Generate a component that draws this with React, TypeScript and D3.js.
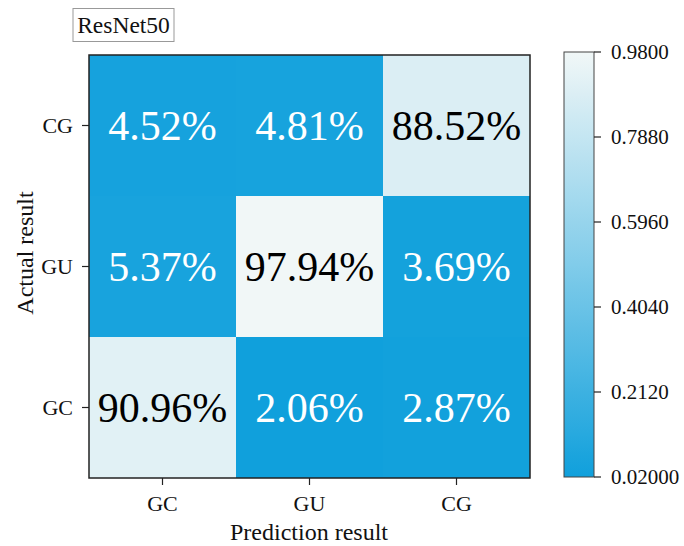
import React from "react";
import * as d3 from "d3";

// Confusion matrix for the ResNet50 classifier
const classes = ["GC", "GU", "CG"];
// rows: actual class (top to bottom), columns: predicted class (left to right)
const actualRows = ["CG", "GU", "GC"];
const matrix: number[][] = [
  [0.0452, 0.0481, 0.8852],
  [0.0537, 0.9794, 0.0369],
  [0.9096, 0.0206, 0.0287],
];
const colorbarTicks = [0.02, 0.212, 0.404, 0.596, 0.788, 0.98];
const colorbarTickLabels = ["0.02000", "0.2120", "0.4040", "0.5960", "0.7880", "0.9800"];
const title = "ResNet50";

const serif: React.CSSProperties = { fontFamily: "'Liberation Serif', 'Times New Roman', Times, serif" };

export default function App() {
  const left = 89, right = 530, top = 55, bottom = 478;
  const x = d3.scaleBand<string>().domain(classes).range([left, right]);
  const y = d3.scaleBand<string>().domain(actualRows).range([top, bottom]);
  const color = d3
    .scaleLinear<string>()
    .domain([0.02, 0.98])
    .range(["#10a0dc", "#f1f7f7"])
    .interpolate(d3.interpolateRgb)
    .clamp(true);

  const cbLeft = 564, cbWidth = 30, cbTop = 52, cbBottom = 477;
  const cbScale = d3.scaleLinear().domain([0.02, 0.98]).range([cbBottom, cbTop]);
  const stops = d3.range(0, 1.0001, 0.05);

  return (
    <svg width={684} height={546} style={{ position: "absolute", left: 0, top: 0, background: "#fff" }}>
      <defs>
        <linearGradient id="cb" x1="0" y1="1" x2="0" y2="0">
          {stops.map((t) => (
            <stop key={t} offset={t} stopColor={color(0.02 + t * 0.96)} />
          ))}
        </linearGradient>
      </defs>

      {/* title box */}
      <rect x={73} y={8.5} width={101} height={33} fill="#fff" stroke="#999" strokeWidth={1} />
      <text x={123.5} y={33} textAnchor="middle" style={serif} fontSize={23.5} fill="#111">
        {title}
      </text>

      {/* cells */}
      {matrix.map((row, i) =>
        row.map((v, j) => {
          const cx = x(classes[j])!;
          const cy = y(actualRows[i])!;
          return (
            <g key={`${i}-${j}`}>
              <rect x={cx} y={cy} width={x.bandwidth()} height={y.bandwidth()} fill={color(v)} />
              <text
                x={cx + x.bandwidth() / 2}
                y={cy + y.bandwidth() / 2 + 14}
                textAnchor="middle"
                style={serif}
                fontSize={42}
                fill={v > 0.5 ? "#000" : "#fff"}
              >
                {(v * 100).toFixed(2)}%
              </text>
            </g>
          );
        })
      )}
      <rect x={left} y={top} width={right - left} height={bottom - top} fill="none" stroke="#222" strokeWidth={1.5} />

      {/* x axis */}
      {classes.map((c) => {
        const cx = x(c)! + x.bandwidth() / 2;
        return (
          <g key={c}>
            <line x1={cx} x2={cx} y1={bottom} y2={bottom + 7} stroke="#222" strokeWidth={1.2} />
            <text x={cx} y={511} textAnchor="middle" style={serif} fontSize={22} fill="#111">
              {c}
            </text>
          </g>
        );
      })}
      <text x={309} y={540} textAnchor="middle" style={serif} fontSize={24} fill="#111">
        Prediction result
      </text>

      {/* y axis */}
      {actualRows.map((c) => {
        const cy = y(c)! + y.bandwidth() / 2;
        return (
          <g key={c}>
            <line x1={left - 7} x2={left} y1={cy} y2={cy} stroke="#222" strokeWidth={1.2} />
            <text x={left - 16} y={cy + 7.5} textAnchor="end" style={serif} fontSize={22} fill="#111">
              {c}
            </text>
          </g>
        );
      })}
      <text
        transform={`translate(33,253) rotate(-90)`}
        textAnchor="middle"
        style={serif}
        fontSize={24}
        fill="#111"
      >
        Actual result
      </text>

      {/* colorbar */}
      <rect x={cbLeft} y={cbTop} width={cbWidth} height={cbBottom - cbTop} fill="url(#cb)" stroke="#444" strokeWidth={1} />
      {colorbarTicks.map((t, i) => {
        const ty = cbScale(t);
        return (
          <g key={t}>
            <line x1={cbLeft + cbWidth} x2={cbLeft + cbWidth + 7} y1={ty} y2={ty} stroke="#222" strokeWidth={1.2} />
            <text x={611} y={ty + 7} style={serif} fontSize={21} fill="#111">
              {colorbarTickLabels[i]}
            </text>
          </g>
        );
      })}
    </svg>
  );
}
